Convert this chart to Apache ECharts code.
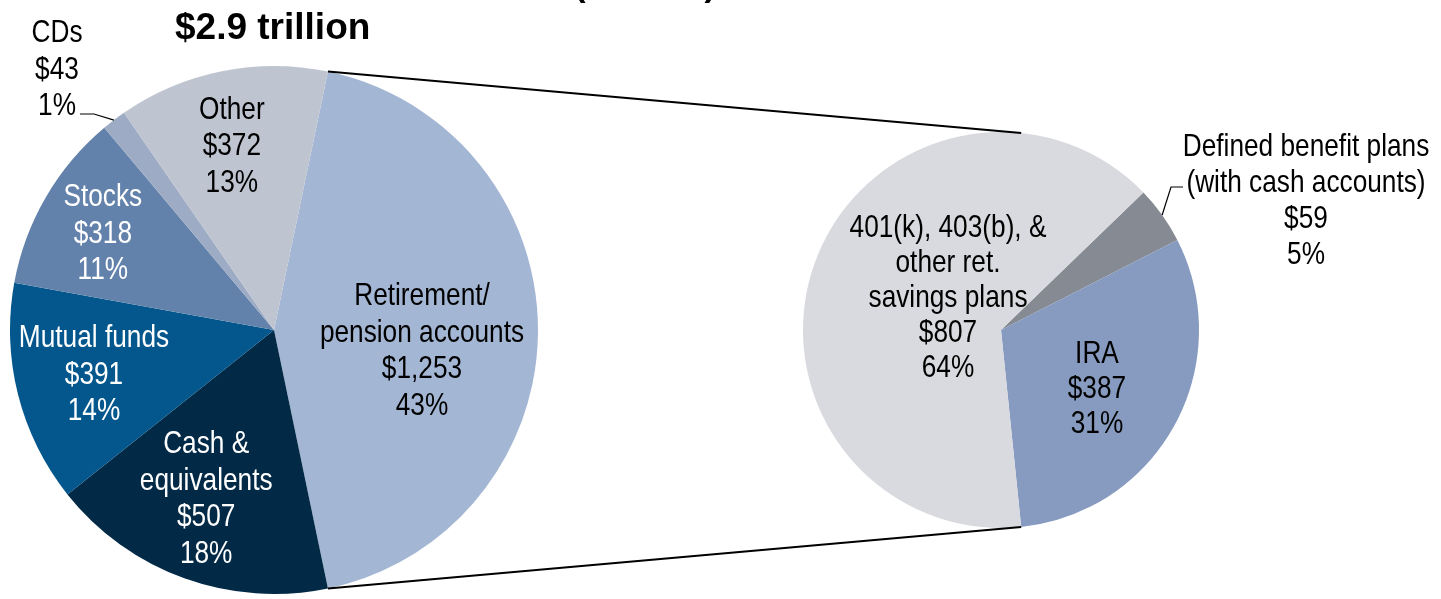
<!DOCTYPE html>
<html>
<head>
<meta charset="utf-8">
<script src="https://cdn.jsdelivr.net/npm/echarts@6/dist/echarts.min.js"></script>
<style>
  html, body { margin: 0; padding: 0; background: #ffffff; }
  #chart { width: 1441px; height: 599px; }
</style>
</head>
<body>
<div id="chart"></div>
<script>
// Household financial assets, billions of dollars
const categories = ['Retirement/\npension accounts', 'Cash &\nequivalents', 'Mutual funds', 'Stocks', 'CDs', 'Other'];
const assets = [1253, 507, 391, 318, 43, 372];

// Breakdown of the retirement/pension slice
const retirementTypes = ['Defined benefit plans\n(with cash accounts)', 'IRA', '401(k), 403(b), &\nother ret.\nsavings plans'];
const retirementAssets = [59, 387, 807];

const totalText = '$2.9 trillion';
const unitText = '(billions)';

// Styling
const mainColors = ['#a3b6d3', '#022a47', '#03578c', '#6282ab', '#9eabc4', '#bfc4d1'];
const mainLabelColors = ['#000', '#fff', '#fff', '#fff', '#000', '#000'];
const subColors = ['#858a93', '#869bbf', '#d9dadf'];
const LABEL_FONT = '32px "Liberation Sans", Arial, sans-serif';
const NARROW = 0.82;           // horizontal squeeze giving a narrow face

const mainCenter = [274, 330], mainR = 264;
const subCenter = [1001, 330], subR = 198;
const subStart = 44;

const mainTotal = assets.reduce((a, b) => a + b, 0);
const subTotal = retirementAssets.reduce((a, b) => a + b, 0);
// retirement slice is centred on the right-hand side of the main pie
const mainStart = assets[0] / mainTotal * 180;

// label nudges from the mid-radius point of each slice (px); null = label sits outside
const mainLabelShift = [[16, 21], [-23, 45], [-52, 13], [-57, -30], null, [-16, -54]];
const subLabelShift = [null, [9, 12], [40, 2]];

function fmt(name, v, total) {
  return name + '\n$' + v.toLocaleString('en-US') + '\n' + Math.round(v / total * 100) + '%';
}

// point on a circle at an ECharts angle (degrees, counter-clockwise from 3 o'clock)
function rim(center, r, deg) {
  const a = deg * Math.PI / 180;
  return [center[0] + r * Math.cos(a), center[1] - r * Math.sin(a)];
}

// mid angle of every slice, following the clockwise pie layout
function midAngles(values, start) {
  const total = values.reduce((a, b) => a + b, 0);
  let a = start;
  return values.map(v => {
    const span = v / total * 360;
    const mid = a - span / 2;
    a -= span;
    return mid;
  });
}

function labelText(text, x, y, color, lh) {
  return {
    type: 'text', x: x, y: y, scaleX: NARROW, silent: true, z: 20,
    style: {
      text: text, fill: color, font: LABEL_FONT, lineHeight: lh,
      textAlign: 'center', textVerticalAlign: 'middle'
    }
  };
}

const mainMid = midAngles(assets, mainStart);
const subMid = midAngles(retirementAssets, subStart);

const labels = [];
categories.forEach((name, i) => {
  const s = mainLabelShift[i];
  if (!s) return;
  const p = rim(mainCenter, mainR / 2, mainMid[i]);
  labels.push(labelText(fmt(name, assets[i], mainTotal), p[0] + s[0], p[1] + s[1], mainLabelColors[i], 36.5));
});
retirementTypes.forEach((name, i) => {
  const s = subLabelShift[i];
  if (!s) return;
  const p = rim(subCenter, subR / 2, subMid[i]);
  labels.push(labelText(fmt(name, retirementAssets[i], subTotal), p[0] + s[0], p[1] + s[1], '#000', 35));
});

// outside labels with leader lines
const cdsIdx = categories.indexOf('CDs');
labels.push(labelText(fmt(categories[cdsIdx], assets[cdsIdx], mainTotal), 57, 70, '#000', 36.5));
const cdsTip = rim(mainCenter, mainR, mainMid[cdsIdx]);
labels.push({
  type: 'polyline', silent: true, z: 20,
  shape: { points: [cdsTip, [94, 114], [80, 114]] },
  style: { stroke: '#000', lineWidth: 1.2, fill: null }
});
labels.push(labelText(fmt(retirementTypes[0], retirementAssets[0], subTotal), 1306, 201, '#000', 36));
const dbTip = rim(subCenter, subR, subMid[0]);
labels.push({
  type: 'polyline', silent: true, z: 20,
  shape: { points: [dbTip, [1171, 187], [1183, 187]] },
  style: { stroke: '#000', lineWidth: 1.2, fill: null }
});

// connector lines: retirement slice edges -> secondary pie rim
const retEdgeTop = rim(mainCenter, mainR, mainStart);
const retEdgeBottom = rim(mainCenter, mainR, -mainStart);
const iraEnd = subStart - (retirementAssets[0] + retirementAssets[1]) / subTotal * 360;
const subBottom = rim(subCenter, subR, iraEnd);
const subTop = [subBottom[0], 2 * subCenter[1] - subBottom[1]];

const chart = echarts.init(document.getElementById('chart'), null, { renderer: 'canvas' });
chart.setOption({
  animation: false,
  backgroundColor: '#ffffff',
  title: {
    text: totalText,
    left: 175, top: 10, padding: 0,
    textStyle: { fontFamily: '"Liberation Sans", Arial, sans-serif', fontWeight: 'bold', fontSize: 37, color: '#000' }
  },
  graphic: [
    {
      type: 'text', x: 645, y: -13, silent: true,
      style: {
        text: unitText, fill: '#000', textAlign: 'center', textVerticalAlign: 'middle',
        font: 'bold 34px "Liberation Sans", Arial, sans-serif'
      }
    },
    {
      type: 'line', silent: true, z: 10,
      shape: { x1: retEdgeTop[0], y1: retEdgeTop[1], x2: subTop[0], y2: subTop[1] },
      style: { stroke: '#000', lineWidth: 2 }
    },
    {
      type: 'line', silent: true, z: 10,
      shape: { x1: retEdgeBottom[0], y1: retEdgeBottom[1], x2: subBottom[0], y2: subBottom[1] },
      style: { stroke: '#000', lineWidth: 2 }
    }
  ].concat(labels),
  series: [
    {
      type: 'pie',
      center: mainCenter,
      radius: mainR,
      startAngle: mainStart,
      clockwise: true,
      emphasis: { disabled: true },
      itemStyle: { borderWidth: 0 },
      label: { show: false },
      labelLine: { show: false },
      data: categories.map((name, i) => ({ name: name, value: assets[i], itemStyle: { color: mainColors[i] } }))
    },
    {
      type: 'pie',
      center: subCenter,
      radius: subR,
      startAngle: subStart,
      clockwise: true,
      emphasis: { disabled: true },
      itemStyle: { borderWidth: 0 },
      label: { show: false },
      labelLine: { show: false },
      data: retirementTypes.map((name, i) => ({ name: name, value: retirementAssets[i], itemStyle: { color: subColors[i] } }))
    }
  ]
});
</script>
</body>
</html>
